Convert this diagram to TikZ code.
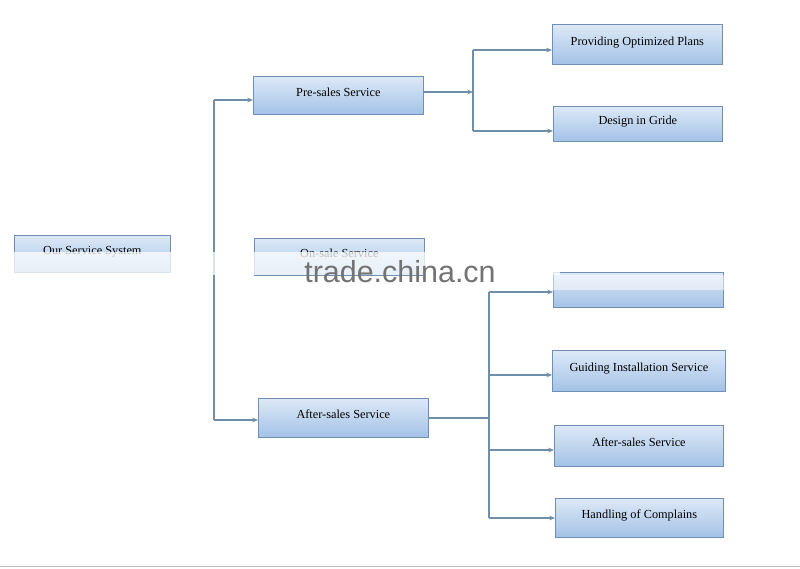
\documentclass[tikz,border=0pt]{standalone}
\usepackage{fontspec}
\setmainfont{Liberation Serif}
\newfontfamily\wmfont{Liberation Sans}
\usetikzlibrary{arrows.meta}
\begin{document}
\begin{tikzpicture}[x=0.03cm,y=-0.03cm,
  box/.style={draw=boxedge, line width=0.6pt, top color=boxtop, bottom color=boxbot, anchor=north west, inner sep=0pt, align=center, font=\fontsize{10.5}{12}\selectfont, text depth=6pt},
  link/.style={draw=linkc, line width=0.9pt},
  arr/.style={link, -{Stealth[length=5pt,width=4pt]}}]
\definecolor{boxedge}{HTML}{6F90B4}
\definecolor{boxtop}{HTML}{DDE9F7}
\definecolor{boxbot}{HTML}{A3C2E6}
\definecolor{linkc}{HTML}{6F8FA8}
\useasboundingbox (0,0) rectangle (800,569);
\fill[white] (0,0) rectangle (800,569);
% boxes
\node[box, minimum width=4.68cm, minimum height=1.11cm] (root) at (14,235) {Our Service System};
\node[box, minimum width=5.1cm, minimum height=1.14cm] (pre) at (253,76) {Pre-sales Service};
\node[box, minimum width=5.1cm, minimum height=1.11cm] (on) at (254,238) {On-sale Service};
\node[box, minimum width=5.1cm, minimum height=1.17cm] (after) at (258,398) {After-sales Service};
\node[box, minimum width=5.1cm, minimum height=1.2cm] (p1) at (552,24) {Providing Optimized Plans};
\node[box, minimum width=5.07cm, minimum height=1.05cm] (p2) at (553,106) {Design in Gride};
\node[box, minimum width=5.1cm, minimum height=1.05cm] (a1) at (553,272) {};
\node[box, minimum width=5.19cm, minimum height=1.23cm] (a2) at (552,350) {Guiding Installation Service};
\node[box, minimum width=5.07cm, minimum height=1.23cm] (a3) at (554,425) {After-sales Service};
\node[box, minimum width=5.04cm, minimum height=1.17cm] (a4) at (555,498) {Handling of Complains};
% connectors
\coordinate (v1) at (214,100);
\coordinate (v2) at (214,420);
\draw[link] (v1) -- (v2);
\draw[arr] (v1) -- (pre.west |- v1);
\draw[arr] (v2) -- (after.west |- v2);
\coordinate (b1) at (473,92);
\draw[arr] (pre.east |- b1) -- (b1);
\coordinate (b1t) at (473,50);
\coordinate (b1b) at (473,131);
\draw[link] (b1t) -- (b1b);
\draw[arr] (b1t) -- (p1.west |- b1t);
\draw[arr] (b1b) -- (p2.west |- b1b);
\coordinate (b2) at (489,418);
\draw[link] (after.east |- b2) -- (b2);
\coordinate (c1) at (489,292);
\coordinate (c2) at (489,375);
\coordinate (c3) at (489,450);
\coordinate (c4) at (489,518);
\draw[link] (c1) -- (c4);
\draw[arr] (c1) -- (a1.west |- c1);
\draw[arr] (c2) -- (a2.west |- c2);
\draw[arr] (c3) -- (a3.west |- c3);
\draw[arr] (c4) -- (a4.west |- c4);
% watermark band
\fill[white, opacity=0.75] (0,252) rectangle (560,275);
\fill[white, opacity=0.5] (490,275) rectangle (800,290);
\node[text=black!55, font=\wmfont\fontsize{26}{28}\selectfont, anchor=center] (wm) at (400,272) {trade.china.cn};
\draw[black!25, line width=0.6pt] (0,566) -- (800,566);
\end{tikzpicture}
\end{document}
